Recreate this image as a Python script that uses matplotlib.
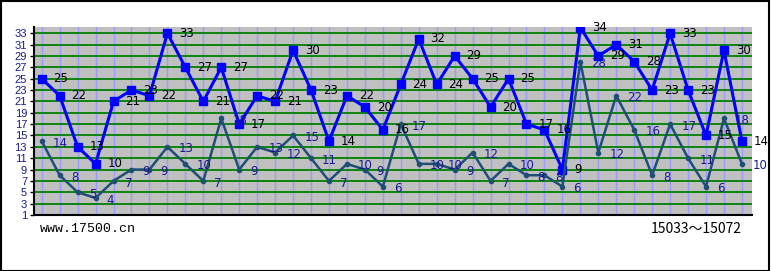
import matplotlib
matplotlib.use("Agg")
import matplotlib.pyplot as plt
from matplotlib.patches import Rectangle

# data
blue_vals = [25, 22, 13, 10, 21, 23, 22, 33, 27, 21, 27, 17, 22, 21, 30, 23, 14, 22, 20, 16,
             24, 32, 24, 29, 25, 20, 25, 17, 16, 9, 34, 29, 31, 28, 23, 33, 23, 15, 30, 14]
dark_vals = [14, 8, 5, 4, 7, 9, 9, 13, 10, 7, 18, 9, 13, 12, 15, 11, 7, 10, 9, 6,
             17, 10, 10, 9, 12, 7, 10, 8, 8, 6, 28, 12, 22, 16, 8, 17, 11, 6, 18, 10]
y_ticks = list(range(1, 34, 2))
site_text = "www.17500.cn"
range_text = "15033～15072"

x = list(range(len(blue_vals)))

fig = plt.figure(figsize=(7.71, 2.71), dpi=100)
fig.patch.set_facecolor("white")
ax = fig.add_axes([34 / 771, 1 - 215 / 271, (752 - 34) / 771, (215 - 27) / 271])
ax.set_facecolor("#C0C0C0")

ax.set_xlim(-0.43, len(x) - 1 + 0.56)
ax.set_ylim(1, 34.1)

# grid lines
for xi in x:
    ax.axvline(xi, color="#9C9CFF", lw=1.0, zorder=1)
for yt in y_ticks[1:]:
    ax.axhline(yt, color="#008000", lw=1.3, zorder=1)

# series
ax.plot(x, blue_vals, color="#0000FF", lw=2.2, marker="s", markersize=5.5,
        markerfacecolor="#0000FF", markeredgecolor="#0000FF", zorder=3)
ax.plot(x, dark_vals, color="#1F4F75", lw=1.8, marker="o", markersize=3,
        markerfacecolor="#1F4F75", markeredgecolor="#1F4F75", zorder=4)

for xi, v in zip(x, blue_vals):
    ax.annotate(str(v), (xi, v), xytext=(8.5, 0), textcoords="offset points",
                ha="left", va="center", fontsize=8.5, color="black",
                family="DejaVu Sans", zorder=6)
for xi, v in zip(x, dark_vals):
    ax.annotate(str(v), (xi, v), xytext=(8.0, -1.5), textcoords="offset points",
                ha="left", va="center", fontsize=8.5, color="#1A1A8C",
                family="DejaVu Sans", zorder=6)

ax.set_yticks(y_ticks)
ax.set_yticklabels([str(t) for t in y_ticks], color="#1A1A8C", fontsize=8,
                   family="Liberation Sans")
ax.tick_params(axis="y", length=3, width=1, pad=2, color="black")
ax.set_xticks([])
for s in ["top", "right"]:
    ax.spines[s].set_visible(False)
for s in ["left", "bottom"]:
    ax.spines[s].set_color("black")
    ax.spines[s].set_linewidth(1.5)

fig.text(40 / 771, 1 - 229 / 271, site_text, ha="left", va="center",
         fontsize=9.5, family="Liberation Mono", color="black")
fig.text(742 / 771, 1 - 229 / 271, range_text, ha="right", va="center",
         fontsize=10, family=["Noto Sans CJK SC", "DejaVu Sans"], color="black")

fig.add_artist(Rectangle((0.5 / 771, 0.5 / 271), 768 / 771, 269.5 / 271,
                         transform=fig.transFigure, fill=False,
                         edgecolor="black", lw=1.5))

fig.savefig("out.png", dpi=100)
